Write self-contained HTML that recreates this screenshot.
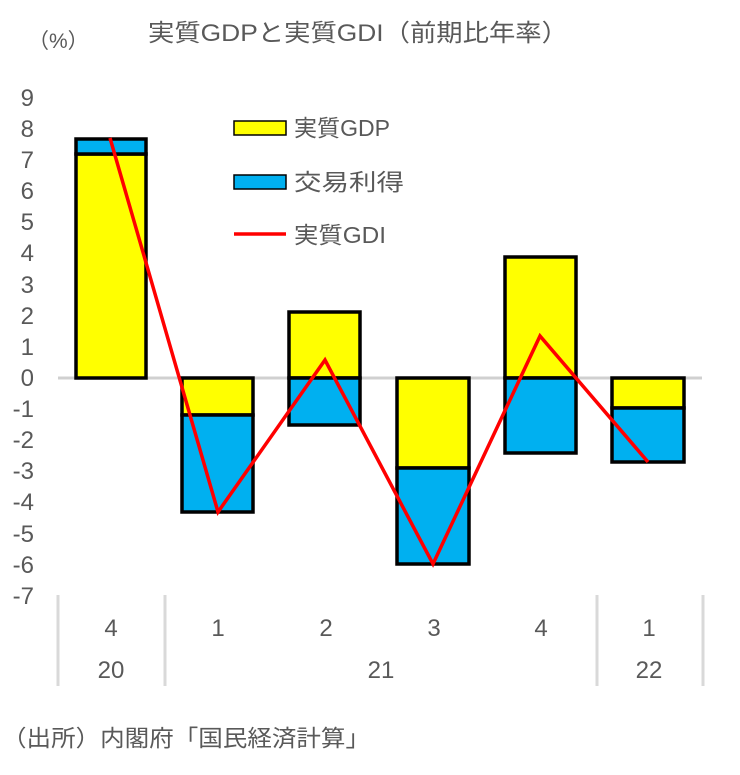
<!DOCTYPE html>
<html><head><meta charset="utf-8"><style>
body{margin:0;background:#fff;}
svg text{font-family:"Liberation Sans","Noto Sans CJK JP",sans-serif;fill:#595959;}
</style></head><body>
<svg width="740" height="770" viewBox="0 0 740 770" xmlns="http://www.w3.org/2000/svg">
<rect width="740" height="770" fill="#fff"/>
<text x="28" y="48" font-size="21" fill="#595959">（%）</text>
<text x="148" y="41" font-size="24" fill="#595959" textLength="420" lengthAdjust="spacingAndGlyphs">実質GDPと実質GDI（前期比年率）</text>
<g font-size="24" text-anchor="end">
<text x="34" y="106">9</text><text x="34" y="137">8</text><text x="34" y="168">7</text><text x="34" y="199">6</text>
<text x="34" y="230">5</text><text x="34" y="261">4</text><text x="34" y="293">3</text><text x="34" y="324">2</text>
<text x="34" y="355">1</text><text x="34" y="386">0</text><text x="34" y="417">-1</text><text x="34" y="448">-2</text>
<text x="34" y="479">-3</text><text x="34" y="510">-4</text><text x="34" y="542">-5</text><text x="34" y="573">-6</text>
<text x="34" y="604">-7</text>
</g>
<line x1="58" y1="378" x2="702" y2="378" stroke="#d0d0d0" stroke-width="3"/>
<g stroke="#000" stroke-width="3.5">
<rect x="76" y="154" width="70" height="224" fill="#ffff00"/>
<rect x="76" y="139" width="70" height="15" fill="#00b0f0"/>
<rect x="182" y="378" width="71" height="37" fill="#ffff00"/>
<rect x="182" y="415" width="71" height="97" fill="#00b0f0"/>
<rect x="289" y="312" width="71" height="66" fill="#ffff00"/>
<rect x="289" y="378" width="71" height="47" fill="#00b0f0"/>
<rect x="397" y="378" width="72" height="90" fill="#ffff00"/>
<rect x="397" y="468" width="72" height="96" fill="#00b0f0"/>
<rect x="505" y="257" width="71" height="121" fill="#ffff00"/>
<rect x="505" y="378" width="71" height="75" fill="#00b0f0"/>
<rect x="612" y="378" width="72" height="30" fill="#ffff00"/>
<rect x="612" y="408" width="72" height="54" fill="#00b0f0"/>
</g>
<polyline points="110,138 218,512 325,360 433,564 540,336 648,462" fill="none" stroke="#ff0000" stroke-width="3.5"/>
<rect x="234" y="121" width="52" height="14" fill="#ffff00" stroke="#000" stroke-width="1.5"/>
<text x="294" y="136" font-size="23" fill="#595959" textLength="96" lengthAdjust="spacingAndGlyphs">実質GDP</text>
<rect x="234" y="175" width="52" height="14" fill="#00b0f0" stroke="#000" stroke-width="1.5"/>
<text x="294" y="190" font-size="23" fill="#595959" textLength="110" lengthAdjust="spacingAndGlyphs">交易利得</text>
<line x1="234" y1="234" x2="286" y2="234" stroke="#ff0000" stroke-width="3.5"/>
<text x="294" y="243" font-size="23" fill="#595959" textLength="92" lengthAdjust="spacingAndGlyphs">実質GDI</text>
<g stroke="#d9d9d9" stroke-width="3">
<line x1="58" y1="595" x2="58" y2="686"/>
<line x1="165" y1="595" x2="165" y2="686"/>
<line x1="597" y1="595" x2="597" y2="686"/>
<line x1="703" y1="595" x2="703" y2="686"/>
</g>
<g font-size="24" text-anchor="middle">
<text x="111" y="636">4</text><text x="218" y="636">1</text><text x="326" y="636">2</text>
<text x="434" y="636">3</text><text x="541" y="636">4</text><text x="649" y="636">1</text>
<text x="111" y="678">20</text><text x="381" y="678">21</text><text x="649" y="678">22</text>
</g>
<text x="2" y="746" font-size="23" fill="#000" textLength="368" lengthAdjust="spacingAndGlyphs">（出所）内閣府「国民経済計算」</text>
</svg>
</body></html>
